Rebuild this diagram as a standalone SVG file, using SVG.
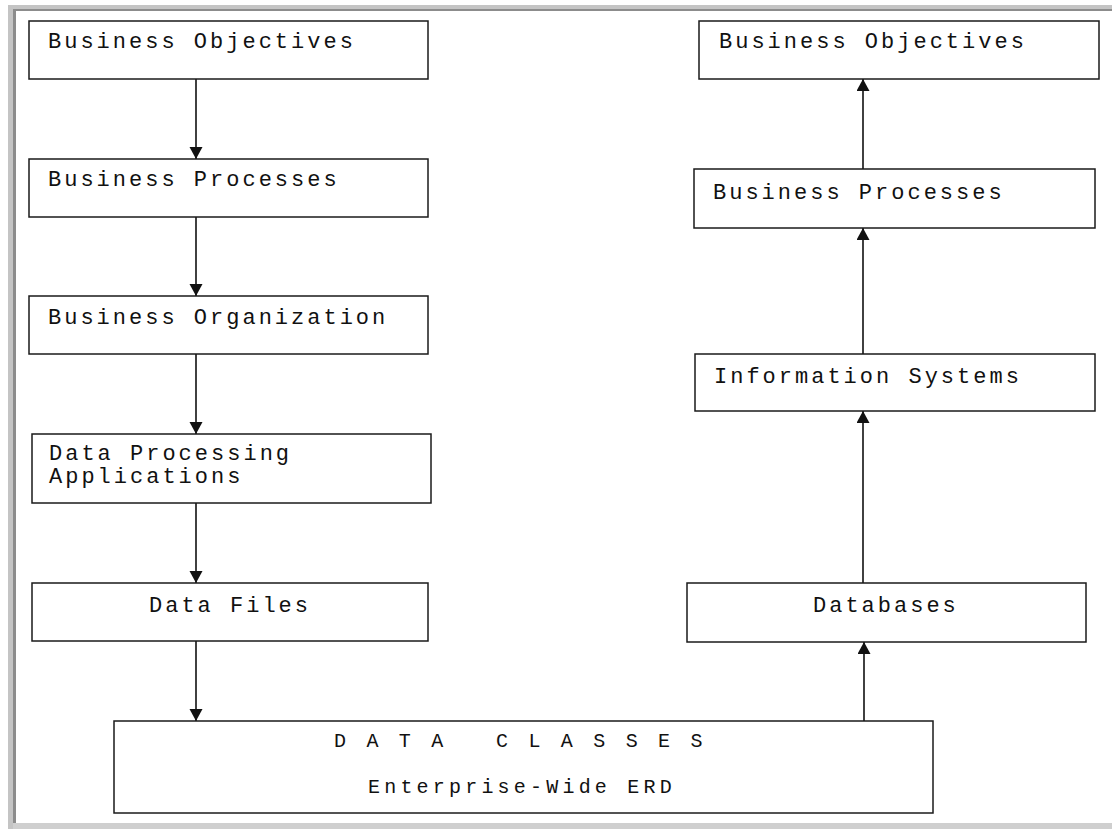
<svg xmlns="http://www.w3.org/2000/svg" width="1112" height="829" viewBox="0 0 1112 829">
<style>
.box{fill:#fff;stroke:#1a1a1a;stroke-width:1.5}
.t{font-family:"Liberation Mono","DejaVu Sans Mono",monospace;font-size:22px;letter-spacing:3px;fill:#111}
.t2{font-family:"Liberation Mono","DejaVu Sans Mono",monospace;font-size:20px;letter-spacing:4.2px;fill:#111}
.c{stroke:#111;stroke-width:1.6;fill:none}
</style>
<defs>
<marker id="ah" markerUnits="userSpaceOnUse" markerWidth="14" markerHeight="14" refX="12" refY="6.5" orient="auto">
<path d="M0,0 L12,6.5 L0,13 z" fill="#111"/>
</marker>
</defs>
<rect x="0" y="0" width="1112" height="829" fill="#fff"/>
<g id="frame">
<rect x="8" y="5" width="1104" height="4" fill="#c4c4c4"/>
<rect x="8" y="5" width="5" height="824" fill="#c4c4c4"/>
<rect x="13" y="9" width="1099" height="2" fill="#8c8c8c"/>
<rect x="13" y="9" width="3" height="814" fill="#8c8c8c"/>
<rect x="13" y="823" width="1099" height="6" fill="#cfcfcf"/>
</g>
<g id="connectors">
<line class="c" x1="196" y1="79" x2="196" y2="159" marker-end="url(#ah)"/>
<line class="c" x1="196" y1="217" x2="196" y2="296" marker-end="url(#ah)"/>
<line class="c" x1="196" y1="354" x2="196" y2="434" marker-end="url(#ah)"/>
<line class="c" x1="196" y1="503" x2="196" y2="583" marker-end="url(#ah)"/>
<line class="c" x1="196" y1="641" x2="196" y2="721" marker-end="url(#ah)"/>
<line class="c" x1="864" y1="721" x2="864" y2="642" marker-end="url(#ah)"/>
<line class="c" x1="863" y1="583" x2="863" y2="411" marker-end="url(#ah)"/>
<line class="c" x1="863" y1="354" x2="863" y2="228" marker-end="url(#ah)"/>
<line class="c" x1="863" y1="169" x2="863" y2="79" marker-end="url(#ah)"/>
</g>
<g id="left-objectives">
<rect class="box" x="29" y="21" width="399" height="58"/>
<text class="t" x="48" y="48">Business Objectives</text>
</g>
<g id="left-processes">
<rect class="box" x="29" y="159" width="399" height="58"/>
<text class="t" x="48" y="186">Business Processes</text>
</g>
<g id="left-organization">
<rect class="box" x="29" y="296" width="399" height="58"/>
<text class="t" x="48" y="324">Business Organization</text>
</g>
<g id="left-dpa">
<rect class="box" x="32" y="434" width="399" height="69"/>
<text class="t" x="49" y="460">Data Processing</text>
<text class="t" x="49" y="483">Applications</text>
</g>
<g id="left-datafiles">
<rect class="box" x="32" y="583" width="396" height="58"/>
<text class="t" x="149" y="612">Data Files</text>
</g>
<g id="data-classes">
<rect class="box" x="114" y="721" width="819" height="92"/>
<text class="t2" x="334" y="747" xml:space="preserve">D A T A   C L A S S E S</text>
<text class="t2" x="368" y="793">Enterprise-Wide ERD</text>
</g>
<g id="right-databases">
<rect class="box" x="687" y="583" width="399" height="59"/>
<text class="t" x="813" y="612">Databases</text>
</g>
<g id="right-infosys">
<rect class="box" x="695" y="354" width="400" height="57"/>
<text class="t" x="714" y="383">Information Systems</text>
</g>
<g id="right-processes">
<rect class="box" x="694" y="169" width="401" height="59"/>
<text class="t" x="713" y="199">Business Processes</text>
</g>
<g id="right-objectives">
<rect class="box" x="699" y="21" width="400" height="58"/>
<text class="t" x="719" y="48">Business Objectives</text>
</g>
</svg>
